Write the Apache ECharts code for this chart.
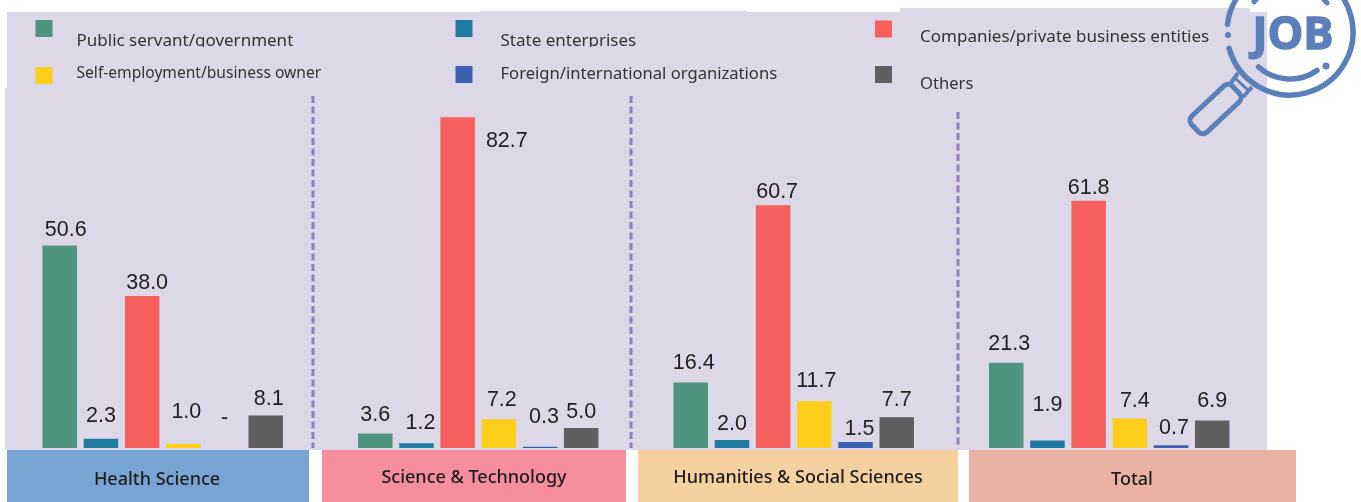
<!DOCTYPE html>
<html>
<head>
<meta charset="utf-8">
<style>
html, body { margin: 0; padding: 0; background: #fff; }
#chart { width: 1361px; height: 502px; }
</style>
<script src="https://cdn.jsdelivr.net/npm/echarts@6/dist/echarts.min.js"></script>
</head>
<body>
<div id="chart"></div>
<script>
const categories = ['Health Science', 'Science & Technology', 'Humanities & Social Sciences', 'Total']
const seriesNames = [
    'Public servant/government',
    'State enterprises',
    'Companies/private business entities',
    'Self-employment/business owner',
    'Foreign/international organizations',
    'Others'
]
const publicServant = [50.6, 3.6, 16.4, 21.3]
const stateEnterprises = [2.3, 1.2, 2.0, 1.9]
const companies = [38.0, 82.7, 60.7, 61.8]
const selfEmployment = [1.0, 7.2, 11.7, 7.4]
const foreignOrgs = [0, 0.3, 1.5, 0.7]   // Health Science shows "-" in the picture
const others = [8.1, 5.0, 7.7, 6.9]

const values = [publicServant, stateEnterprises, companies, selfEmployment, foreignOrgs, others]
const colors = ['#4f947e', '#217ba0', '#f5605e', '#ffce1a', '#3a62b0', '#5f5f5f']

// label gap above each bar, same order as values
const labelGaps = [
    [5, 8, 8, 8],
    [12, 9, 5, 24],
    [2, 0, 2, 2],
    [21, 8, 9, 6],
    [19, 19, 2, 6],
    [6, 5, 6, 8]
]
// sideways nudge of each label
const labelNudges = [
    [6, 0, 3, 3],
    [0, 4, 0, 0],
    [5, 0, 4, 0],
    [3, 3, 2, 5],
    [0, 4, 4, 3],
    [3, 0, 0, 0]
]

// legend placement: marker left, marker centre y, text shift, gap to text, font size
const legendSpots = [
    [35.5, 28.5, 12.5, 19, 17],
    [455.5, 28.5, 12.5, 23, 17],
    [875, 28.5, 8, 23, 17],
    [35.5, 74.5, -1.5, 19, 15.6],
    [455.5, 74.5, 0.5, 23, 16.6],
    [875, 74.5, 10, 23, 16.6]
]

const panelColor = '#dcd8e8'
const iconColor = '#5b7fb8'
const stripColors = ['#78a5d3', '#f78e9d', '#f5d1a0', '#ebb2a4']
const stripBoxes = [[7, 302, 480], [322, 304, 478], [638, 320, 478], [969, 327, 480]]
const stripTextX = [157, 474, 798, 1132]
const panels = [[7, 12, 473, 76], [5, 88, 1262, 362], [480, 11, 267, 77], [747, 12, 153, 76], [900, 8, 350, 80], [1250, 12, 17, 76]]
const dividers = [[313, 96], [631, 96], [958, 112]]
const labelFont = '"Liberation Sans", sans-serif'
const legendFont = '"Noto Sans", sans-serif'

const graphics = []
panels.forEach(p => {
    graphics.push({ type: 'rect', z: -1, shape: { x: p[0], y: p[1], width: p[2], height: p[3] }, style: { fill: panelColor } })
})
dividers.forEach(d => {
    graphics.push({
        type: 'line', z: 1,
        shape: { x1: d[0], y1: d[1], x2: d[0], y2: 448 },
        style: { stroke: '#8e7fb8', lineWidth: 3, lineDash: [7, 3.5] }
    })
})
categories.forEach((name, i) => {
    const b = stripBoxes[i]
    graphics.push({ type: 'rect', z: 1, shape: { x: b[0], y: 450, width: b[1], height: 52 }, style: { fill: stripColors[i] } })
    graphics.push({
        type: 'text', z: 2, x: stripTextX[i], y: b[2],
        style: { text: name, fill: '#1c1c1c', font: '500 18px "Noto Sans", sans-serif', align: 'center', verticalAlign: 'middle' }
    })
})
// the picture cuts off the descenders of the two upper legend texts
graphics.push({ type: 'rect', z: 20, shape: { x: 70, y: 47, width: 600, height: 8 }, style: { fill: panelColor } })

// JOB magnifier icon
const deg = a => a * Math.PI / 180
const arc = (r, a0, a1, w) => ({
    type: 'arc', z: 21,
    shape: { cx: 1290, cy: 32, r: r, startAngle: deg(a0), endAngle: deg(a1), clockwise: true },
    style: { stroke: iconColor, fill: 'none', lineWidth: w, lineCap: 'round' }
})
graphics.push(arc(63, -60, 165, 5.5), arc(63, 187, 235, 5.5), arc(47, 55, 132, 5.5), arc(47, -140, -130, 5), arc(47, -45, -38, 5))
graphics.push(
    { type: 'circle', z: 21, shape: { cx: 1228, cy: 35, r: 3 }, style: { fill: iconColor } },
    { type: 'circle', z: 21, shape: { cx: 1326, cy: 66, r: 3.5 }, style: { fill: iconColor } },
    {
        type: 'rect', z: 21, x: 1215.5, y: 109, rotation: deg(43),
        shape: { x: -28, y: -11, width: 56, height: 22, r: 6 },
        style: { stroke: iconColor, fill: 'none', lineWidth: 5 }
    },
    { type: 'polyline', z: 21, shape: { points: [[1238, 73], [1230, 84]] }, style: { stroke: iconColor, fill: 'none', lineWidth: 4 } },
    { type: 'polyline', z: 21, shape: { points: [[1252, 87], [1243, 97]] }, style: { stroke: iconColor, fill: 'none', lineWidth: 4 } },
    { type: 'polyline', z: 21, shape: { points: [[1235, 78], [1248, 90]] }, style: { stroke: iconColor, fill: 'none', lineWidth: 3 } },
    {
        type: 'text', z: 21, x: 1293, y: 36,
        style: { text: 'JOB', fill: iconColor, stroke: iconColor, lineWidth: 1.5, font: '700 45px "Open Sans", sans-serif', align: 'center', verticalAlign: 'middle' }
    }
)

// a blank line before or after the name pushes the text away from the marker centre
const legends = seriesNames.map((name, i) => {
    const s = legendSpots[i]
    const shift = s[2]
    const twoLines = Math.abs(shift) >= 1
    const lh = twoLines ? Math.abs(shift) * 2 : 20
    return {
        data: [name],
        icon: 'rect',
        selectedMode: false,
        left: s[0],
        top: s[1] - Math.max(8.5, twoLines ? lh : 10),
        padding: 0,
        itemWidth: 17,
        itemHeight: 17,
        formatter: n => !twoLines ? n : shift > 0 ? '\n' + n : n + '\n',
        textStyle: {
            fontFamily: legendFont,
            fontSize: s[4],
            color: '#333',
            lineHeight: lh,
            padding: [0, 0, 0, s[3]]
        }
    }
})

const series = seriesNames.map((name, i) => ({
    name: name,
    type: 'bar',
    barWidth: 34.5,
    barGap: '19.4%',
    itemStyle: { color: colors[i] },
    data: values[i].map((v, c) => ({
        value: v,
        label: {
            show: true,
            position: 'top',
            distance: labelGaps[i][c],
            offset: [labelNudges[i][c], 0],
            fontFamily: labelFont,
            fontSize: 21.5,
            color: '#222',
            formatter: v === 0 ? '-' : v.toFixed(1)
        }
    }))
}))

// 82.7 sits beside the top of its bar
series[2].data[1].label.position = 'right'
series[2].data[1].label.offset = [11, -142]

const chart = echarts.init(document.getElementById('chart'))
chart.setOption({
    animation: false,
    backgroundColor: '#fff',
    grid: { left: 5, width: 1262, top: 48, bottom: 54 },
    legend: legends,
    xAxis: { type: 'category', data: categories, show: false },
    yAxis: { type: 'value', min: 0, max: 100, show: false },
    graphic: graphics,
    series: series
})
</script>
</body>
</html>
